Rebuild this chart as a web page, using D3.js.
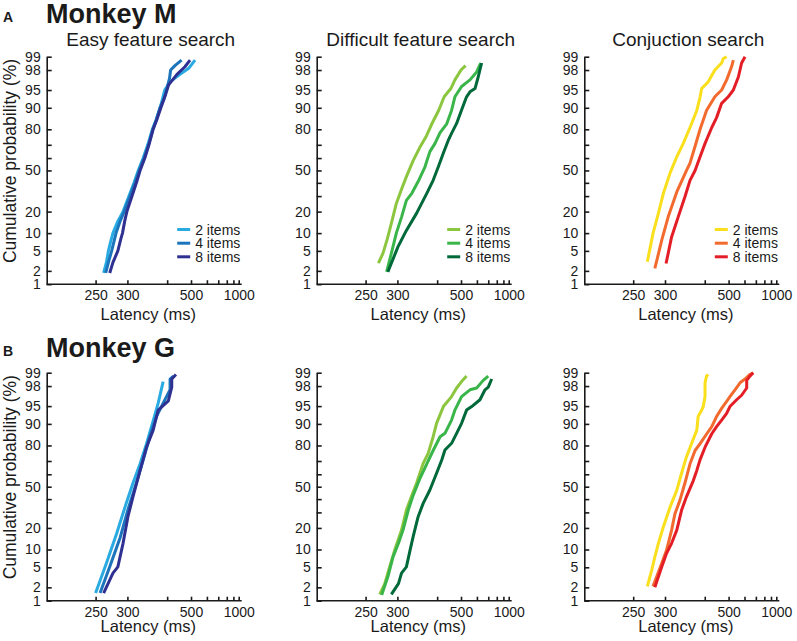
<!DOCTYPE html>
<html><head><meta charset="utf-8">
<script src="https://cdn.jsdelivr.net/npm/d3@7"></script>
<style>
html,body{margin:0;padding:0;background:#fff;}
svg text{font-family:"Liberation Sans",Arial,Helvetica,sans-serif;fill:#1a1a1a;}
</style></head>
<body>
<svg id="chart" width="797" height="641"></svg>
<script>
// ---------- data: [latency (ms), cumulative probability (%)] ----------
const legendLabels = ["2 items", "4 items", "8 items"];
const panelTitles = ["Easy feature search", "Difficult feature search", "Conjuction search"];
const monkeyNames = ["Monkey M", "Monkey G"];
const panelLetters = ["A", "B"];
const yTickValues = [1,2,5,10,20,30,40,50,60,70,80,90,95,98,99];
const yTickLabeled = [1,2,5,10,20,50,80,90,95,98,99];
const xTickValues = [250,300,400,500,600,700,800,900,1000];
const xTickLabeled = [250,300,500,1000];
const xExtentMs = [199, 1067];

const blues  = ["#29abe2", "#1c75bc", "#2e3192"];
const greens = ["#8cc63f", "#39b54a", "#00693a"];
const warms  = ["#f9df1c", "#f26a2e", "#e41e26"];

// Monkey M
const easyM2 = [[261,1.8],[265,3],[268,5],[271,7],[275,10],[283,15],[292,20],[303,30],[313,40],[322,50],[333,60],[344,70],[356,80],[366,85],[378,90],[392,95],[410,96.5],[447,97.5],[490,98.2],[522,98.8]];
const easyM4 = [[264,1.8],[268,3],[273,5],[280,10],[287,15],[294,20],[305,30],[315,40],[324,50],[335,60],[346,70],[357,80],[367,85],[377,90],[390,93],[400,95.5],[408,97],[412,98],[428,98.4],[455,98.8]];
const easyM8 = [[270,1.8],[275,3],[283,5],[288,8],[291,10],[295,15],[299,20],[309,30],[318,40],[326,50],[337,60],[347,70],[358,80],[368,85],[380,90],[395,94],[405,96],[435,97.5],[470,98.3],[495,98.8]];

const diffM2 = [[268,2.9],[275,4.5],[282,8],[290,15],[298,25],[308,35],[318,45],[333,58],[349,68],[367,76],[383,83],[405,89],[425,93.4],[452,95.3],[470,96.8],[500,98],[525,98.4]];
const diffM4 = [[281,1.9],[289,4.5],[298,10],[308,17],[318,27],[330,32],[345,41],[363,53],[377,65],[393,71],[410,78],[435,83],[455,89],[470,93.4],[503,95.7],[552,96.8],[598,97.8],[630,98.6]];
const diffM8 = [[283,1.9],[301,5.9],[318,11],[341,19],[368,32],[387,42],[404,53],[422,64],[441,73],[455,77.6],[478,83.2],[503,89.2],[531,93.4],[552,94.6],[586,95.3],[610,97.2],[638,98.6]];

const conjM2 = [[270,3.1],[279,9.9],[288,19],[297,32],[310,48],[324,61],[339,71],[356,81],[375,89],[385,93.4],[390,95.3],[412,96.5],[437,98],[466,98.6],[474,98.9],[490,99]];
const conjM4 = [[282,2.25],[294,7.7],[306,17],[324,33],[347,50],[356,56],[370,69],[385,80],[406,89],[437,93.4],[466,95],[490,96.8],[516,98.3],[526,98.8]];
const conjM8 = [[302,2.85],[313,8.7],[327,17],[343,29.5],[356,42],[370,50],[385,61],[401,71],[425,81],[444,86],[466,91.5],[498,93.4],[526,95],[557,97.2],[579,98.6],[604,99]];

// Monkey G
const easyG2 = [[250,1.5],[265,5.9],[281,17],[298,37],[311,53],[326,68],[341,81],[358,91],[372,95.6],[387,98.4]];
const easyG4 = [[256,1.5],[270,5.1],[287,15],[301,32],[318,53],[333,70.7],[349,84.6],[367,92.4],[387,95.6],[410,97.6],[410,98.6],[422,98.8]];
const easyG8 = [[261,1.5],[275,3.9],[283,5.1],[292,12.4],[301,27],[311,42],[326,63],[341,79],[358,87.6],[372,94.1],[404,96],[416,97.9],[416,98.6],[432,98.9]];

const diffG2 = [[270,1.4],[278,2.4],[286,5.1],[295,9.8],[308,18.8],[318,31.7],[329,42],[341,52.8],[358,68.3],[372,75.2],[387,84.6],[398,90.2],[422,94.9],[455,96.7],[478,97.8],[503,98.4],[531,98.8]];
const diffG4 = [[273,1.35],[283,3.3],[292,7.6],[302,12.4],[311,18.8],[322,31.7],[333,43],[350,57],[368,68],[387,77],[410,84.6],[428,86.2],[455,91.3],[470,94.1],[503,96.7],[552,97.6],[598,97.8],[652,98.5],[700,98.8]];
const diffG8 = [[289,1.4],[302,2.4],[308,3.9],[318,5.1],[326,9.8],[333,15.4],[345,27],[358,36.7],[377,47.3],[398,60.8],[416,70.7],[428,77.3],[455,81.2],[478,86.2],[503,90.2],[531,94.1],[563,94.9],[624,96.2],[668,97.6],[700,97.9],[737,98.6]];

const conjG2 = [[270,2.1],[277,4.5],[282,7.6],[288,12.4],[297,20.7],[310,34],[324,47],[335,61],[347,73],[360,81],[375,87.6],[379,92.4],[390,94.1],[395,94.9],[401,96.7],[401,98.3],[406,98.8],[412,98.9]];
const conjG4 = [[279,2.1],[294,5.9],[303,9.8],[313,18.8],[320,29],[331,39],[343,53],[356,68],[370,77],[385,81],[407,86],[425,89],[444,92.4],[466,94.5],[490,95.9],[507,96.7],[536,97.6],[568,98.3],[604,98.6],[644,98.9],[674,99]];
const conjG8 = [[282,2],[294,5.1],[303,8.7],[313,12.4],[324,18.8],[335,31.7],[347,42],[365,55],[375,63],[385,71],[401,79],[425,86],[444,89],[466,91.3],[490,93.3],[507,94.9],[546,96.2],[579,96.9],[617,97.8],[617,98.5],[644,98.8],[674,99]];

const rows = [
  [[easyM2, easyM4, easyM8], [diffM2, diffM4, diffM8], [conjM2, conjM4, conjM8]],
  [[easyG2, easyG4, easyG8], [diffG2, diffG4, diffG8], [conjG2, conjG4, conjG8]]
];
const palettes = [blues, greens, warms];

// ---------- helpers ----------
function probit(p){
  const a=[-3.969683028665376e+01,2.209460984245205e+02,-2.759285104469687e+02,1.383577518672690e+02,-3.066479806614716e+01,2.506628277459239e+00];
  const b=[-5.447609879822406e+01,1.615858368580409e+02,-1.556989798598866e+02,6.680131188771972e+01,-1.328068155288572e+01];
  const c=[-7.784894002430293e-03,-3.223964580411365e-01,-2.400758277161838e+00,-2.549732539343734e+00,4.374664141464968e+00,2.938163982698783e+00];
  const d=[7.784695709041462e-03,3.224671290700398e-01,2.445134137142996e+00,3.754408661907416e+00];
  const pl=0.02425, ph=1-pl;
  if(p<pl){const q=Math.sqrt(-2*Math.log(p));return (((((c[0]*q+c[1])*q+c[2])*q+c[3])*q+c[4])*q+c[5])/((((d[0]*q+d[1])*q+d[2])*q+d[3])*q+1);}
  if(p<=ph){const q=p-0.5,r=q*q;return (((((a[0]*r+a[1])*r+a[2])*r+a[3])*r+a[4])*r+a[5])*q/(((((b[0]*r+b[1])*r+b[2])*r+b[3])*r+b[4])*r+1);}
  const q=Math.sqrt(-2*Math.log(1-p));return -(((((c[0]*q+c[1])*q+c[2])*q+c[3])*q+c[4])*q+c[5])/((((d[0]*q+d[1])*q+d[2])*q+d[3])*q+1);
}
const recip = t => -1/t;
const zOf = pct => probit(pct/100);

// ---------- layout ----------
const svg = d3.select("#chart");
const colX = [46.7, 316.7, 584.3];
const rowTop = [56.7, 372.7];
const rowBot = [284.2, 600.7];
const axisW = 195;

rows.forEach((row, ri) => {
  // row header
  svg.append("text").attr("x", 3).attr("y", ri === 0 ? 22 : 355.5)
    .attr("font-size", 14).attr("font-weight", "bold").text(panelLetters[ri]);
  svg.append("text").attr("x", 46).attr("y", ri === 0 ? 23 : 357)
    .attr("font-size", 27).attr("font-weight", "bold").text(monkeyNames[ri]);

  // y-axis label
  const yc = (rowTop[ri] + rowBot[ri]) / 2 - 9.5;
  svg.append("text").attr("transform", `translate(16,${yc}) rotate(-90)`)
    .attr("text-anchor", "middle").attr("font-size", 17.5).text("Cumulative probability (%)");

  row.forEach((series, ci) => {
    const x0 = colX[ci];
    const g = svg.append("g");
    const xs = d3.scaleLinear().domain(xExtentMs.map(recip)).range([x0, x0 + axisW]);
    const ys = d3.scaleLinear().domain([zOf(1), zOf(99)]).range([rowBot[ri], rowTop[ri]]);
    const X = t => xs(recip(t));
    const Y = p => ys(zOf(p));

    if (ri === 0) {
      g.append("text").attr("x", x0 + 104).attr("y", 45.5)
        .attr("text-anchor", "middle").attr("font-size", 19).text(panelTitles[ci]);
    }

    // x axis
    const xAxis = d3.axisBottom(xs)
      .tickValues(xTickValues.map(recip))
      .tickFormat(d => { const t = Math.round(-1/d); return xTickLabeled.includes(t) ? String(t) : ""; })
      .tickSizeInner(-4).tickSizeOuter(0).tickPadding(6);
    const gx = g.append("g").attr("transform", `translate(0,${rowBot[ri]})`).call(xAxis);
    gx.selectAll("text").attr("font-size", 14).attr("fill", "#1a1a1a").attr("font-family", null);
    gx.selectAll("line,path").attr("stroke", "#1a1a1a").attr("stroke-width", 1.6);
    gx.select(".domain").attr("d", `M${x0},0H${x0 + axisW}`);

    // y axis
    const yAxis = d3.axisLeft(ys)
      .tickValues(yTickValues.map(v => zOf(v)))
      .tickFormat((d, i) => yTickLabeled.includes(yTickValues[i]) ? String(yTickValues[i]) : "")
      .tickSizeInner(-5).tickSizeOuter(0).tickPadding(6);
    const gy = g.append("g").attr("transform", `translate(${x0},0)`).call(yAxis);
    gy.selectAll("text").attr("font-size", 14).attr("fill", "#1a1a1a").attr("font-family", null);
    gy.selectAll("line,path").attr("stroke", "#1a1a1a").attr("stroke-width", 1.6);

    g.append("text").attr("x", x0 + 101.6).attr("y", ri === 0 ? 320 : 632)
      .attr("text-anchor", "middle").attr("font-size", 16.5).text("Latency (ms)");

    // curves
    const line = d3.line().x(d => X(d[0])).y(d => Y(d[1]));
    series.forEach((s, si) => {
      g.append("path").datum(s).attr("d", line)
        .attr("fill", "none").attr("stroke", palettes[ci][si])
        .attr("stroke-width", 3).attr("stroke-linejoin", "round").attr("stroke-linecap", "butt");
    });

    // legend (top row only)
    if (ri === 0) {
      const ly = [229.5, 243.2, 256.8];
      legendLabels.forEach((lab, li) => {
        g.append("line").attr("x1", x0 + 130.5).attr("x2", x0 + 143.5)
          .attr("y1", ly[li]).attr("y2", ly[li])
          .attr("stroke", palettes[ci][li]).attr("stroke-width", 3);
        g.append("text").attr("x", x0 + 148.5).attr("y", ly[li] + 5)
          .attr("font-size", 14).text(lab);
      });
    }
  });
});
</script>
</body></html>
